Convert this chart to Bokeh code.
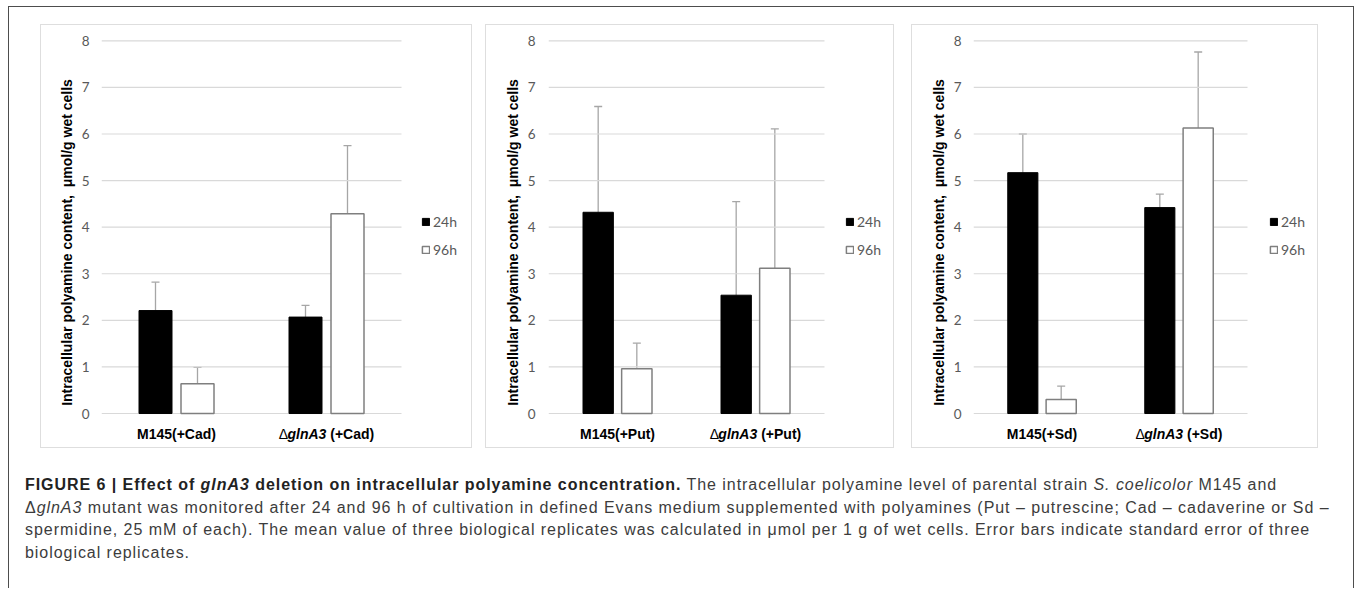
from bokeh.plotting import figure
from bokeh.models import (Range1d, ColumnDataSource, Whisker, TeeHead,
                          Legend, LegendItem, Div, FixedTicker)
from bokeh.core.properties import value
from bokeh.layouts import row, column
from bokeh.embed import file_html
from bokeh.resources import INLINE

# ---------------- data ----------------
series_names = ["24h", "96h"]
strain = "M145"
mutant_gene = "glnA3"

suffix_cad = "(+Cad)"
suffix_put = "(+Put)"
suffix_sd = "(+Sd)"

cad_24h = [2.21, 2.07]
cad_24h_err = [0.61, 0.25]
cad_96h = [0.64, 4.29]
cad_96h_err = [0.35, 1.46]

put_24h = [4.32, 2.54]
put_24h_err = [2.27, 2.01]
put_96h = [0.96, 3.12]
put_96h_err = [0.55, 2.99]

sd_24h = [5.17, 4.42]
sd_24h_err = [0.83, 0.29]
sd_96h = [0.30, 6.13]
sd_96h_err = [0.29, 1.63]

y_ticks = [0, 1, 2, 3, 4, 5, 6, 7, 8]
y_label = "Intracellular polyamine content,\u00a0 \u03bcmol/g wet cells"

# ---------------- style ----------------
AX_FONT = "Liberation Sans"
TICK_FONT = "Lato"
GRID = "#d9d9d9"
TICK_COL = "#595959"
BAR_EDGE = "#7f7f7f"
ERR_COL = "#a6a6a6"
BAR_W = 0.22
DODGE = 0.14


def make_panel(suffix, v24, e24, v96, e96, width, bl, plot_w, legend_x,
               tick_standoff, suffix_w):
    cats = [f"{strain}{suffix}", f"\u0394{mutant_gene} {suffix}"]
    n = len(cats)
    br = 3
    frame_w = width - bl - br
    # categories occupy unit slots [i, i+1]; the frame continues to the right
    # so the legend can sit inside it, as in the original layout
    p = figure(x_range=Range1d(0, n * frame_w / plot_w),
               y_range=Range1d(-0.708, 8.05),
               width=width, height=424, output_backend="svg",
               toolbar_location=None, min_border_left=bl, min_border_right=br,
               min_border_top=13, min_border_bottom=3)
    p.outline_line_color = None
    p.xaxis.visible = False
    p.xgrid.visible = False
    p.ygrid.visible = False
    yax = p.yaxis[0]
    yax.ticker = FixedTicker(ticks=y_ticks)
    yax.axis_line_color = None
    yax.major_tick_line_color = None
    yax.minor_tick_line_color = None
    yax.major_tick_out = 0
    yax.major_tick_in = 0
    yax.minor_tick_out = 0
    yax.major_label_text_font = TICK_FONT
    yax.major_label_text_font_size = "13.5px"
    yax.major_label_text_color = TICK_COL
    yax.major_label_standoff = tick_standoff
    yax.axis_label = y_label
    yax.axis_label_text_font = AX_FONT
    yax.axis_label_text_font_style = "bold"
    yax.axis_label_text_font_size = "14px"
    yax.axis_label_text_color = "black"
    yax.axis_label_standoff = 4

    # horizontal gridlines spanning the category area only
    p.segment(x0=0, x1=n, y0=y_ticks, y1=y_ticks, line_color=GRID, line_width=1.2)

    centers = [i + 0.5 for i in range(n)]
    src = ColumnDataSource(dict(
        x24=[c - DODGE for c in centers], x96=[c + DODGE for c in centers],
        v24=v24, v96=v96,
        u24=[a + b for a, b in zip(v24, e24)],
        u96=[a + b for a, b in zip(v96, e96)]))

    r24 = p.vbar(x="x24", top="v24", width=BAR_W, source=src,
                 fill_color="black", line_color="black", line_width=1)
    r96 = p.vbar(x="x96", top="v96", width=BAR_W, source=src,
                 fill_color="white", line_color=BAR_EDGE, line_width=1.5)

    for base, lo, up in (("x24", "v24", "u24"), ("x96", "v96", "u96")):
        w = Whisker(source=src, base=base, lower=lo, upper=up,
                    line_color=ERR_COL, line_width=1.3,
                    upper_head=TeeHead(size=8, line_color=ERR_COL, line_width=1.3),
                    lower_head=None)
        p.add_layout(w)

    legend = Legend(items=[LegendItem(label=series_names[0], renderers=[r24]),
                           LegendItem(label=series_names[1], renderers=[r96])],
                    location=(legend_x, 188), padding=0, margin=0,
                    glyph_width=9, glyph_height=9, label_height=14, spacing=11,
                    label_standoff=3, label_text_font=TICK_FONT,
                    label_text_font_size="14px", label_text_color=TICK_COL,
                    background_fill_alpha=0, border_line_color=None)
    p.add_layout(legend)

    # category labels (mixed styles for the mutant name)
    w_delta, w_gene, w_space = 8.6, 38.9, 3.9
    total = w_delta + w_gene + w_space + suffix_w
    s = -total / 2
    lab = ColumnDataSource(dict(
        x=[centers[0], centers[1], centers[1], centers[1]],
        text=[cats[0], "\u0394", mutant_gene, suffix],
        style=["bold", "normal", "bold italic", "bold"],
        align=["center", "left", "left", "left"],
        xo=[0, s, s + w_delta, s + w_delta + w_gene + w_space]))
    p.text(x="x", y=0, x_offset="xo", y_offset=20, text="text", source=lab,
           text_font_style="style", text_align="align", text_baseline="middle",
           text_font=value(AX_FONT), text_font_size=value("14px"),
           text_color="black")
    return p


p1 = make_panel(suffix_cad, cad_24h, cad_24h_err, cad_96h, cad_96h_err,
                432, 60, 300, 320, 12, 43.9)
p2 = make_panel(suffix_put, put_24h, put_24h_err, put_96h, put_96h_err,
                409, 62, 276, 297, 13, 40.1)
p3 = make_panel(suffix_sd, sd_24h, sd_24h_err, sd_96h, sd_96h_err,
                407, 61, 274, 296, 12, 35.4)

panel_style = {"border": "1.5px solid #dedede", "box-sizing": "border-box"}
for p in (p1, p2, p3):
    p.styles = panel_style
p1.margin = (17, 0, 0, 31)
p2.margin = (17, 0, 0, 13)
p3.margin = (17, 0, 0, 17)

caption_html = (
    "<div style=\"font-family:'Liberation Sans',Arial,sans-serif;font-size:16px;"
    "letter-spacing:0.95px;line-height:22.5px;color:#3c3c3c;white-space:nowrap;\">"
    "<b style='color:#222'>FIGURE 6 | Effect of <i>glnA3</i> deletion on intracellular "
    "polyamine concentration.</b> The intracellular polyamine level of parental strain "
    "<i>S. coelicolor</i> M145 and<br>"
    "\u0394<i>glnA3</i> mutant was monitored after 24 and 96 h of cultivation in defined "
    "Evans medium supplemented with polyamines (Put \u2013 putrescine; Cad \u2013 cadaverine "
    "or Sd \u2013<br>"
    "spermidine, 25 mM of each). The mean value of three biological replicates was "
    "calculated in \u03bcmol per 1 g of wet cells. Error bars indicate standard error of three<br>"
    "biological replicates.</div>")
caption = Div(text=caption_html, width=1320, height=100, margin=(26, 0, 0, 16))

root = column(row(p1, p2, p3), caption, width=1346, height=582,
              margin=(6, 0, 0, 8),
              styles={"border": "1.5px solid #4d4d4d", "box-sizing": "border-box",
                      "border-bottom": "none"})

open("out.html", "w").write(file_html(root, INLINE))
